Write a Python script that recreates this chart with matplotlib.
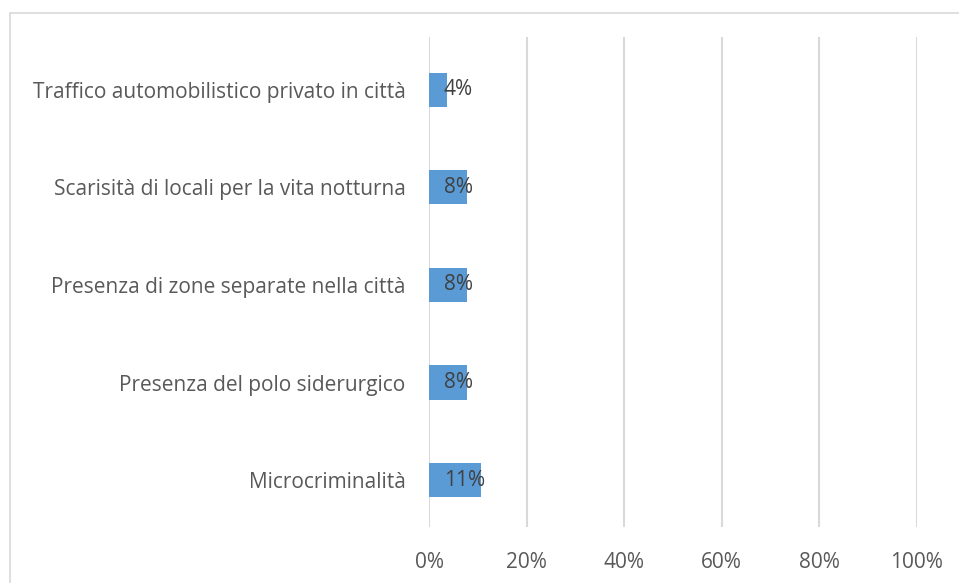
import matplotlib.pyplot as plt
from matplotlib.patches import Rectangle

# survey answers, bottom to top
categories = ['Microcriminalità',
              'Presenza del polo siderurgico',
              'Presenza di zone separate nella città',
              'Scarisità di locali per la vita notturna',
              'Traffico automobilistico privato in città']
values = [10.7, 7.8, 7.7, 7.7, 3.6]
xticks = [0, 20, 40, 60, 80, 100]

plt.rcParams['font.family'] = ['Open Sans', 'DejaVu Sans']

fig = plt.figure(figsize=(9.59, 5.83), dpi=100)
ax = fig.add_axes([429/959, 1 - 527/583, (917 - 429)/959, (527 - 37)/583])

# light chart border
fig.patches.append(Rectangle((10/959, -0.05), 1.0, 1 - 13/583 + 0.05,
                             transform=fig.transFigure, fill=False,
                             edgecolor='#d9d9d9', linewidth=1.2))

y = range(len(categories))
ax.barh(y, values, height=0.35, color='#5b9bd5', zorder=3)
for i, v in zip(y, values):
    ax.text(3, i, f'{round(v)}%', va='center', ha='left',
            fontsize=15, color='#404040', zorder=4)

ax.set_xlim(0, 100)
ax.set_ylim(-0.48, 4.54)
ax.set_xticks(xticks)
ax.set_xticklabels([f'{t}%' for t in xticks])
ax.set_yticks(list(y))
ax.set_yticklabels(categories)
ax.tick_params(axis='both', length=0, labelsize=15, labelcolor='#595959')
ax.tick_params(axis='y', pad=17)
ax.tick_params(axis='x', pad=18)
ax.grid(axis='x', color='#d9d9d9', linewidth=1.5, zorder=0)
for s in ax.spines.values():
    s.set_visible(False)

fig.savefig('out.png', dpi=100)
